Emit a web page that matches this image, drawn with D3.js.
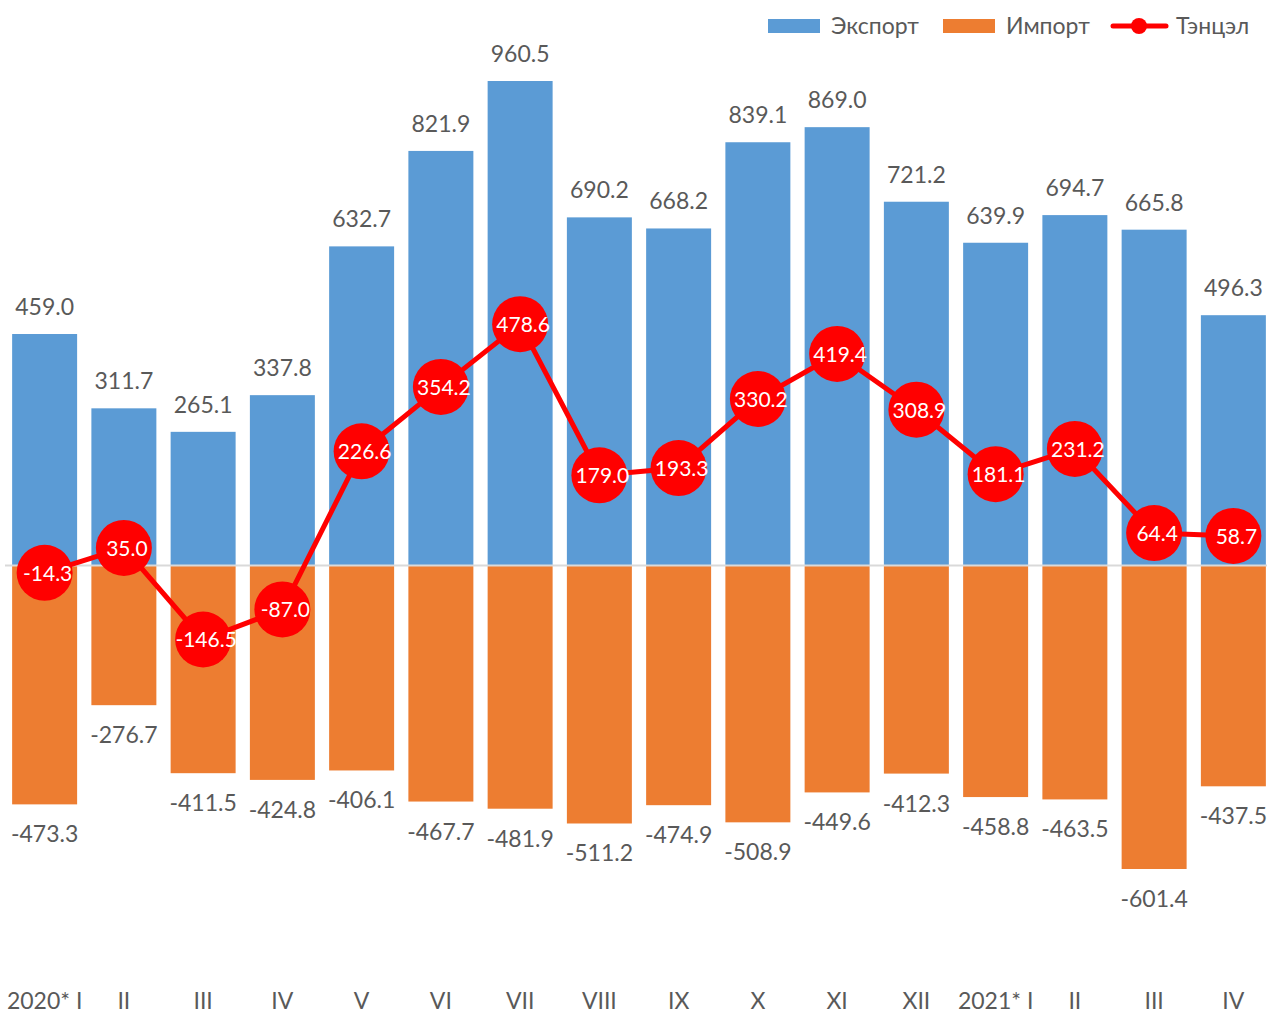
<!DOCTYPE html>
<html>
<head>
<meta charset="utf-8">
<script src="https://cdn.jsdelivr.net/npm/d3@7"></script>
<style>
  body { margin: 0; background: #fff; }
  svg { display: block; font-family: Lato, "Open Sans", sans-serif; }
</style>
</head>
<body>
<div id="chart"></div>
<script>
const categories = ["2020* I", "II", "III", "IV", "V", "VI", "VII", "VIII", "IX", "X", "XI", "XII", "2021* I", "II", "III", "IV"];
const exportVals = [459.0, 311.7, 265.1, 337.8, 632.7, 821.9, 960.5, 690.2, 668.2, 839.1, 869.0, 721.2, 639.9, 694.7, 665.8, 496.3];
const importVals = [-473.3, -276.7, -411.5, -424.8, -406.1, -467.7, -481.9, -511.2, -474.9, -508.9, -449.6, -412.3, -458.8, -463.5, -601.4, -437.5];
const balanceVals = [-14.3, 35.0, -146.5, -87.0, 226.6, 354.2, 478.6, 179.0, 193.3, 330.2, 419.4, 308.9, 181.1, 231.2, 64.4, 58.7];
const seriesNames = ["Экспорт", "Импорт", "Тэнцэл"];

const width = 1267, height = 1015;
const blue = "#5B9BD5", orange = "#ED7D31", red = "#FF0000", grey = "#595959";

const svg = d3.select("#chart").append("svg")
    .attr("width", width)
    .attr("height", height);

const data = categories.map((c, i) => ({
    key: i,
    cat: c,
    exp: exportVals[i],
    imp: importVals[i],
    bal: balanceVals[i]
}));

// x: one band per month
const x = d3.scaleBand()
    .domain(data.map(d => d.key))
    .range([5, 1273])
    .paddingInner(0.18)
    .paddingOuter(0.09);

// y: shared by bars and the balance line
const y = d3.scaleLinear()
    .domain([-601.4, 960.5])
    .range([869, 81]);

// export bars
svg.append("g").selectAll("rect")
    .data(data)
    .join("rect")
    .attr("x", d => x(d.key))
    .attr("width", x.bandwidth())
    .attr("y", d => y(d.exp))
    .attr("height", d => y(0) - y(d.exp))
    .attr("fill", blue);

// import bars
svg.append("g").selectAll("rect")
    .data(data)
    .join("rect")
    .attr("x", d => x(d.key))
    .attr("width", x.bandwidth())
    .attr("y", y(0))
    .attr("height", d => y(d.imp) - y(0))
    .attr("fill", orange);

// zero line
svg.append("line")
    .attr("x1", 5).attr("x2", width)
    .attr("y1", y(0)).attr("y2", y(0))
    .attr("stroke", "#D9D9D9")
    .attr("stroke-width", 2);

const cx = d => x(d.key) + x.bandwidth() / 2;

// value labels
svg.append("g").selectAll("text")
    .data(data)
    .join("text")
    .attr("x", cx)
    .attr("y", d => y(d.exp) - 19)
    .attr("text-anchor", "middle")
    .attr("fill", grey)
    .style("font-size", "23px")
    .text(d => d.exp.toFixed(1));

svg.append("g").selectAll("text")
    .data(data)
    .join("text")
    .attr("x", cx)
    .attr("y", d => y(d.imp) + 38)
    .attr("text-anchor", "middle")
    .attr("fill", grey)
    .style("font-size", "23px")
    .text(d => d.imp.toFixed(1));

// balance line
const line = d3.line()
    .x(cx)
    .y(d => y(d.bal));

svg.append("path")
    .datum(data)
    .attr("fill", "none")
    .attr("stroke", red)
    .attr("stroke-width", 5)
    .attr("stroke-linejoin", "round")
    .attr("d", line);

const pts = svg.append("g").selectAll("g")
    .data(data)
    .join("g")
    .attr("transform", d => `translate(${cx(d)},${y(d.bal)})`);

pts.append("circle")
    .attr("r", 28)
    .attr("fill", red);

pts.append("text")
    .attr("x", 3)
    .attr("y", 8)
    .attr("text-anchor", "middle")
    .attr("fill", "#fff")
    .style("font-size", "21px")
    .text(d => d.bal.toFixed(1));

// category labels
svg.append("g").selectAll("text")
    .data(data)
    .join("text")
    .attr("x", cx)
    .attr("y", 1009)
    .attr("text-anchor", "middle")
    .attr("fill", grey)
    .style("font-size", "23px")
    .text(d => d.cat);

// legend
const legend = svg.append("g");
legend.append("rect").attr("x", 768).attr("y", 19).attr("width", 52).attr("height", 14).attr("fill", blue);
legend.append("text").attr("x", 831).attr("y", 34).attr("fill", grey).style("font-size", "23px").text(seriesNames[0]);
legend.append("rect").attr("x", 943).attr("y", 19).attr("width", 52).attr("height", 14).attr("fill", orange);
legend.append("text").attr("x", 1006).attr("y", 34).attr("fill", grey).style("font-size", "23px").text(seriesNames[1]);
legend.append("line").attr("x1", 1113).attr("x2", 1166).attr("y1", 26).attr("y2", 26)
    .attr("stroke", red).attr("stroke-width", 5).attr("stroke-linecap", "round");
legend.append("circle").attr("cx", 1139).attr("cy", 26).attr("r", 8).attr("fill", red);
legend.append("text").attr("x", 1176).attr("y", 34).attr("fill", grey).style("font-size", "23px").text(seriesNames[2]);
</script>
</body>
</html>
